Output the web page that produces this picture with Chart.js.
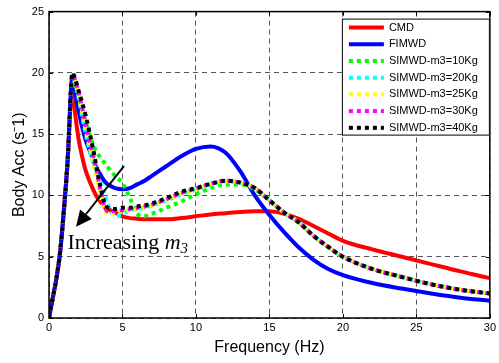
<!doctype html>
<html>
	<head>
		<title>Body Acc</title>
		<meta charset="utf-8">
		<script src="https://cdn.jsdelivr.net/npm/chart.js@4.4.1/dist/chart.umd.min.js"></script>
		<style>
			html, body { margin: 0; padding: 0; background: #fff; }
			#wrap { width: 499px; height: 363px; }
		</style>
	</head>
	<body>
		<div id="wrap">
			<canvas id="canvas" width="499" height="363"></canvas>
		</div>

<script>
// frequency (Hz)
var freq = [0, 0.25, 0.5, 0.75, 1, 1.25, 1.6, 1.75, 2, 2.25, 2.5, 2.75, 3, 3.25, 3.5, 3.75, 4, 4.5, 5, 5.5, 6, 6.5, 7, 8, 9, 10, 11, 12, 13, 14, 15, 16, 17, 18, 19, 20, 22, 24, 26, 28, 30];

var cmd    = [0, 1.6, 3.2, 5.3, 8.6, 12.5, 19.0, 17.0, 14.7, 13.2, 12.0, 11.2, 10.5, 9.9, 9.5, 9.1, 8.9, 8.6, 8.3, 8.15, 8.1, 8.05, 8.05, 8.05, 8.15, 8.3, 8.45, 8.55, 8.65, 8.7, 8.7, 8.5, 8.1, 7.5, 6.9, 6.3, 5.6, 5.0, 4.4, 3.8, 3.25];
var fimwd  = [0, 1.6, 3.2, 5.3, 8.6, 12.5, 19.8, 18.6, 17.0, 15.6, 14.5, 13.7, 12.9, 12.2, 11.7, 11.2, 10.9, 10.6, 10.5, 10.6, 10.9, 11.2, 11.6, 12.4, 13.2, 13.8, 14.0, 13.5, 12.0, 10.0, 8.4, 7.0, 5.75, 4.75, 4.0, 3.5, 2.85, 2.4, 2.0, 1.65, 1.4];
var m3_10  = [0, 1.6, 3.2, 5.3, 8.6, 12.5, 19.5, 19.2, 18.3, 17.0, 16.0, 15.0, 14.2, 13.5, 13.1, 12.7, 12.3, 11.6, 11.0, 9.8, 8.5, 8.3, 8.5, 9.0, 9.5, 10.1, 10.6, 10.9, 10.9, 10.5, 9.6, 8.6, 7.8, 6.7, 5.8, 5.0, 4.0, 3.35, 2.75, 2.3, 2.0];
var m3_20  = [0, 1.6, 3.2, 5.3, 8.6, 12.5, 19.7, 19.3, 18.0, 16.5, 15.0, 13.8, 12.8, 11.9, 11.0, 10.2, 9.3, 8.3, 8.5, 8.8, 8.9, 9.0, 9.2, 9.6, 10.1, 10.5, 10.9, 11.15, 11.05, 10.6, 9.6, 8.6, 7.8, 6.7, 5.8, 5.0, 4.0, 3.35, 2.75, 2.3, 2.0];
var m3_25  = [0, 1.6, 3.2, 5.3, 8.6, 12.5, 19.8, 19.4, 18.2, 16.8, 15.3, 14.0, 12.7, 11.3, 10.0, 8.9, 8.4, 8.5, 8.7, 8.8, 8.9, 9.0, 9.2, 9.6, 10.1, 10.5, 10.9, 11.15, 11.05, 10.6, 9.6, 8.6, 7.8, 6.7, 5.8, 5.0, 4.0, 3.35, 2.75, 2.3, 2.0];
var m3_30  = [0, 1.6, 3.2, 5.3, 8.6, 12.5, 19.9, 19.5, 18.5, 17.2, 15.8, 14.5, 13.3, 12.0, 10.4, 9.2, 8.7, 8.7, 8.8, 8.9, 9.0, 9.1, 9.25, 9.7, 10.2, 10.55, 10.95, 11.2, 11.05, 10.6, 9.6, 8.6, 7.8, 6.7, 5.8, 5.0, 4.0, 3.35, 2.75, 2.3, 2.0];
var m3_40  = [0, 1.6, 3.2, 5.3, 8.6, 12.5, 20.0, 19.6, 18.6, 17.6, 16.5, 15.2, 13.8, 12.2, 10.7, 9.5, 9.0, 8.9, 9.0, 9.0, 9.1, 9.2, 9.35, 9.8, 10.3, 10.6, 10.95, 11.2, 11.05, 10.6, 9.6, 8.6, 7.8, 6.7, 5.8, 5.0, 4.0, 3.35, 2.75, 2.3, 2.0];

var names  = ["CMD", "FIMWD", "SIMWD-m3=10Kg", "SIMWD-m3=20Kg", "SIMWD-m3=25Kg", "SIMWD-m3=30Kg", "SIMWD-m3=40Kg"];
var series = [cmd, fimwd, m3_10, m3_20, m3_25, m3_30, m3_40];
var colors = ["#ff0000", "#0000ff", "#00ff00", "#00ffff", "#ffff00", "#ff00ff", "#000000"];

var xTicks = [0, 5, 10, 15, 20, 25, 30];
var yTicks = [0, 5, 10, 15, 20, 25];

var sans  = "'Liberation Sans', Arial, sans-serif";
var serif = "'Liberation Serif', 'Times New Roman', serif";

var dataSets = [];
series.forEach(function(vals, i) {
	var pts = [];
	for (var k = 0; k < freq.length; k++) pts.push({x: freq[k], y: vals[k]});
	dataSets.push({
		label: names[i],
		data: pts,
		borderColor: colors[i],
		backgroundColor: colors[i],
		borderWidth: 4,
		borderDash: i < 2 ? [] : [4, 4],
		borderCapStyle: 'butt',
		pointRadius: 0,
		fill: false,
		cubicInterpolationMode: 'monotone',
		order: series.length - i
	});
});

// box, inward ticks, legend, arrow + annotation
var decor = {
	id: 'decor',
	afterDatasetsDraw: function(chart) {
		var ctx = chart.ctx, a = chart.chartArea;
		var xs = chart.scales.x, ys = chart.scales.y;
		ctx.save();

		// arrow
		var x0 = xs.getPixelForValue(5.1), y0 = ys.getPixelForValue(12.4);
		var x1 = xs.getPixelForValue(1.84), y1 = ys.getPixelForValue(7.44);
		var ang = Math.atan2(y1 - y0, x1 - x0);
		var hl = 16, hw = 7.5;
		var bx = x1 - hl * Math.cos(ang), by = y1 - hl * Math.sin(ang);
		ctx.strokeStyle = '#000';
		ctx.lineWidth = 2;
		ctx.beginPath();
		ctx.moveTo(x0, y0);
		ctx.lineTo(bx, by);
		ctx.stroke();
		ctx.fillStyle = '#000';
		ctx.beginPath();
		ctx.moveTo(x1, y1);
		ctx.lineTo(bx + hw * Math.sin(ang), by - hw * Math.cos(ang));
		ctx.lineTo(bx - hw * Math.sin(ang), by + hw * Math.cos(ang));
		ctx.closePath();
		ctx.fill();

		// "Increasing m3"
		var tx = xs.getPixelForValue(1.26), ty = ys.getPixelForValue(5.6);
		ctx.textBaseline = 'alphabetic';
		ctx.textAlign = 'left';
		ctx.font = '22px ' + serif;
		ctx.fillText('Increasing ', tx, ty);
		tx += ctx.measureText('Increasing ').width;
		ctx.font = 'italic 22px ' + serif;
		ctx.fillText('m', tx, ty);
		tx += ctx.measureText('m').width;
		ctx.font = 'italic 15px ' + serif;
		ctx.fillText('3', tx, ty + 4);

		// inward ticks
		ctx.strokeStyle = '#000';
		ctx.lineWidth = 1;
		ctx.beginPath();
		xTicks.forEach(function(v) {
			var px = Math.round(xs.getPixelForValue(v)) + 0.5;
			ctx.moveTo(px, a.bottom); ctx.lineTo(px, a.bottom - 4);
			ctx.moveTo(px, a.top); ctx.lineTo(px, a.top + 4);
		});
		yTicks.forEach(function(v) {
			var py = Math.round(ys.getPixelForValue(v)) + 0.5;
			ctx.moveTo(a.left, py); ctx.lineTo(a.left + 4, py);
			ctx.moveTo(a.right, py); ctx.lineTo(a.right - 4, py);
		});
		ctx.stroke();

		// box
		ctx.lineWidth = 1.5;
		ctx.strokeRect(a.left, a.top, a.right - a.left, a.bottom - a.top);

		// legend
		var lx = a.right - 148, ly = a.top + 7, lw = 148, lh = 117;
		ctx.fillStyle = '#fff';
		ctx.fillRect(lx, ly, lw, lh);
		ctx.lineWidth = 1;
		ctx.strokeStyle = '#000';
		ctx.strokeRect(lx + 0.5, ly + 0.5, lw - 1, lh - 1);
		ctx.font = '11px ' + sans;
		ctx.textBaseline = 'middle';
		names.forEach(function(n, i) {
			var ry = ly + 9 + i * 16.7;
			ctx.strokeStyle = colors[i];
			ctx.lineWidth = 4;
			ctx.lineCap = 'butt';
			ctx.setLineDash(i < 2 ? [] : [4, 4]);
			ctx.beginPath();
			ctx.moveTo(lx + 7, ry);
			ctx.lineTo(lx + 42, ry);
			ctx.stroke();
			ctx.setLineDash([]);
			ctx.fillStyle = '#000';
			ctx.fillText(n, lx + 47, ry);
		});

		ctx.restore();
	}
};

new Chart(document.getElementById("canvas"), {
	type: 'line',
	data: { datasets: dataSets },
	plugins: [decor],
	options: {
		responsive: false,
		animation: false,
		layout: { padding: { left: 0, right: 5, top: 11, bottom: 0 } },
		plugins: {
			legend: { display: false },
			tooltip: { enabled: false }
		},
		scales: {
			x: {
				type: 'linear',
				min: 0, max: 30,
				afterFit: function(s) { s.height = 45; },
				afterBuildTicks: function(s) { s.ticks = xTicks.map(function(v) { return {value: v}; }); },
				ticks: { padding: 3, color: '#000', font: { family: sans, size: 11 }, maxRotation: 0 },
				grid: { color: '#555', lineWidth: 1, drawTicks: false },
				border: { display: false, dash: [5, 4] },
				title: { display: true, text: 'Frequency (Hz)', color: '#000', font: { family: sans, size: 16 }, padding: { top: 0, bottom: 6 } }
			},
			y: {
				min: 0, max: 25,
				afterFit: function(s) { s.width = 49; },
				afterBuildTicks: function(s) { s.ticks = yTicks.map(function(v) { return {value: v}; }); },
				ticks: { padding: 5, color: '#000', font: { family: sans, size: 11 } },
				grid: { color: '#555', lineWidth: 1, drawTicks: false },
				border: { display: false, dash: [5, 4] },
				title: { display: true, text: 'Body Acc (s⁻1)', color: '#000', font: { family: sans, size: 16 }, padding: { top: 10, bottom: 0 } }
			}
		}
	}
});
</script>
	</body>
</html>
